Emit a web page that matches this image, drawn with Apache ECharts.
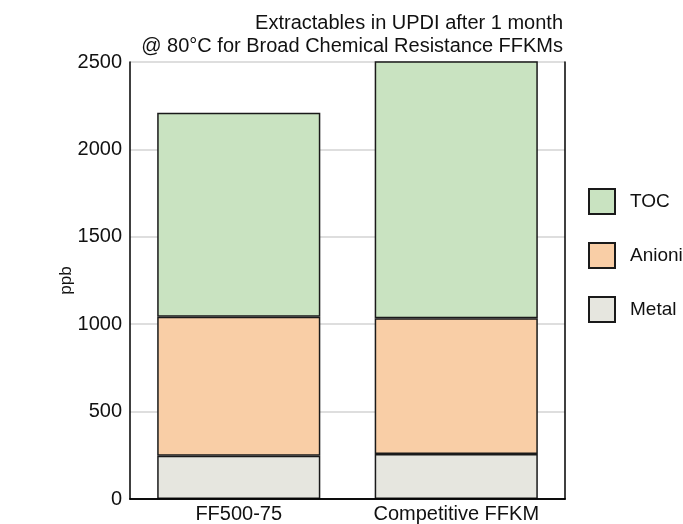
<!DOCTYPE html>
<html>
<head>
<meta charset="utf-8">
<script src="https://cdn.jsdelivr.net/npm/echarts@6/dist/echarts.min.js"></script>
<style>html,body{margin:0;padding:0;background:#fff}#c{width:683px;height:524px}</style>
</head>
<body>
<div id="c"></div>
<script>
const categories = ['FF500-75', 'Competitive FFKM'];
const metal = [248, 257];
const anionic = [795, 777];
const toc = [1167, 1500];
const yTicks = { min: 0, max: 2500, interval: 500 };
const titleLines = ['Extractables in UPDI after 1 month', '@ 80\u00b0C for Broad Chemical Resistance FFKMs'];

const FONT = '"Liberation Sans", Arial, sans-serif';
const chart = echarts.init(document.getElementById('c'), null, { renderer: 'canvas' });
const border = { borderColor: '#1a1a1a', borderWidth: 1.5 };
const titleStyle = { fontFamily: FONT, fontSize: 20, fontWeight: 'normal', color: '#111' };
chart.setOption({
  animation: false,
  backgroundColor: '#fff',
  textStyle: { fontFamily: FONT },
  title: [
    { text: titleLines[0], right: 120, top: 13, padding: 0, textStyle: titleStyle },
    { text: titleLines[1], right: 120, top: 36, padding: 0, textStyle: titleStyle }
  ],
  legend: {
    orient: 'vertical', left: 588, top: 188, padding: 0,
    itemWidth: 26, itemHeight: 25, itemGap: 27,
    data: ['TOC', 'Anionic', 'Metal'],
    icon: 'rect',
    textStyle: { fontFamily: FONT, fontSize: 19, color: '#111', padding: [0, 0, 0, 10] }
  },
  grid: { left: 130, right: 118, top: 62, bottom: 25, outerBoundsMode: 'none', containLabel: false },
  xAxis: [{
    type: 'category', data: categories,
    axisLine: { show: true, lineStyle: { color: '#000', width: 1.5 } },
    axisTick: { show: false },
    axisLabel: { fontFamily: FONT, fontSize: 20, color: '#111', margin: 5 }
  }, {
    type: 'category', data: categories, position: 'top', z: 10,
    axisLine: { show: true, lineStyle: { color: '#000', width: 1.5 } },
    axisTick: { show: false }, axisLabel: { show: false }
  }],
  yAxis: [{
    type: 'value', min: yTicks.min, max: yTicks.max, interval: yTicks.interval,
    name: 'ppb', nameLocation: 'middle', nameRotate: 90, nameGap: 55, nameMoveOverlap: false,
    nameTextStyle: { fontFamily: FONT, fontSize: 17, color: '#111' },
    axisLine: { show: true, lineStyle: { color: '#000', width: 1.5 } },
    axisTick: { show: false },
    axisLabel: { fontFamily: FONT, fontSize: 20, color: '#111', margin: 8, formatter: v => String(v) },
    splitLine: { show: true, lineStyle: { color: '#d3d3d3', width: 1.5 } }
  }, {
    type: 'value', min: yTicks.min, max: yTicks.max, interval: yTicks.interval, position: 'right', z: 10,
    axisLine: { show: true, lineStyle: { color: '#000', width: 1.5 } },
    axisTick: { show: false }, axisLabel: { show: false }, splitLine: { show: false }
  }],
  series: [
    { name: 'Metal', type: 'bar', stack: 't', barWidth: '75%', data: metal, itemStyle: Object.assign({ color: '#e6e6df' }, border) },
    { name: 'Anionic', type: 'bar', stack: 't', barWidth: '75%', data: anionic, itemStyle: Object.assign({ color: '#f9cea6' }, border) },
    { name: 'TOC', type: 'bar', stack: 't', barWidth: '75%', data: toc, itemStyle: Object.assign({ color: '#c9e3c1' }, border) }
  ]
});
</script>
</body>
</html>
